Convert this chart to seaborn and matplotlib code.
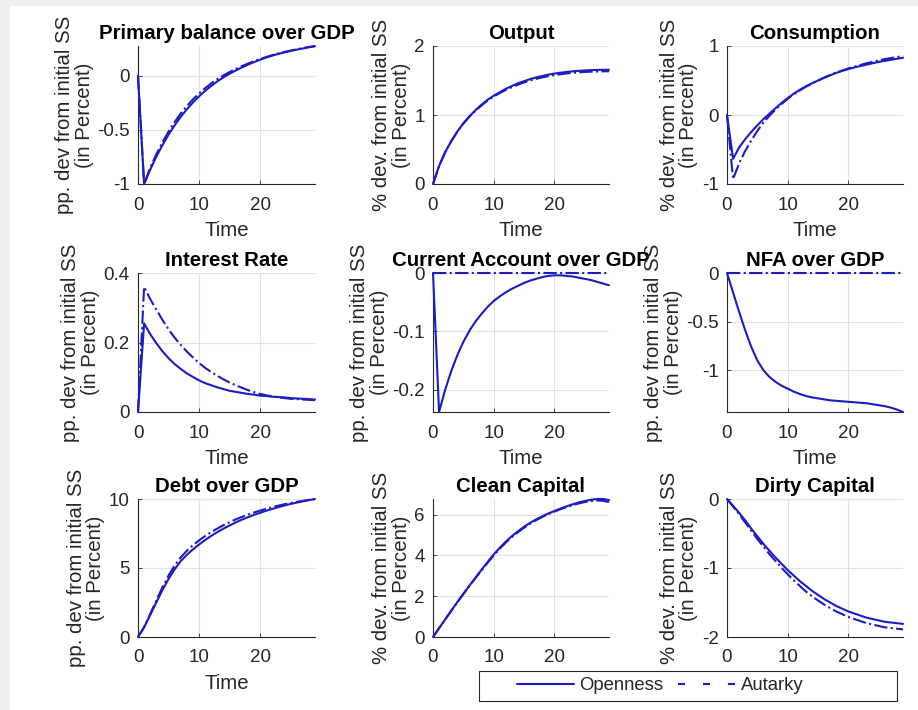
import matplotlib
matplotlib.use("Agg")
import matplotlib.pyplot as plt
from matplotlib.lines import Line2D
from matplotlib.patches import Rectangle
from matplotlib.ticker import FuncFormatter
import seaborn as sns

# ---- data: impulse responses, periods 0..29 ----
periods = list(range(30))

primary_open = [0, -1.0, -0.867, -0.748, -0.641, -0.544, -0.457, -0.379, -0.309, -0.246,
                -0.189, -0.138, -0.092, -0.050, -0.013, 0.020, 0.050, 0.078, 0.104, 0.128,
                0.150, 0.170, 0.188, 0.204, 0.218, 0.231, 0.243, 0.254, 0.265, 0.275]
primary_aut = [0, -1.0, -0.850, -0.725, -0.615, -0.515, -0.427, -0.348, -0.279, -0.217,
               -0.162, -0.113, -0.069, -0.030, 0.005, 0.036, 0.064, 0.090, 0.114, 0.136,
               0.156, 0.175, 0.192, 0.208, 0.222, 0.235, 0.247, 0.258, 0.268, 0.277]

output_open = [0, 0.26, 0.46, 0.62, 0.76, 0.88, 0.98, 1.07, 1.15, 1.22,
               1.28, 1.33, 1.38, 1.42, 1.46, 1.49, 1.52, 1.545, 1.565, 1.585,
               1.60, 1.613, 1.624, 1.633, 1.64, 1.646, 1.65, 1.653, 1.655, 1.655]
output_aut = [0, 0.26, 0.46, 0.62, 0.755, 0.875, 0.975, 1.063, 1.14, 1.208,
              1.267, 1.318, 1.364, 1.404, 1.44, 1.472, 1.50, 1.524, 1.545, 1.563,
              1.578, 1.591, 1.602, 1.611, 1.618, 1.624, 1.628, 1.631, 1.633, 1.634]

cons_open = [0, -0.635, -0.47, -0.35, -0.245, -0.15, -0.06, 0.02, 0.10, 0.175,
             0.245, 0.31, 0.365, 0.415, 0.46, 0.50, 0.54, 0.575, 0.61, 0.64,
             0.665, 0.69, 0.71, 0.73, 0.75, 0.77, 0.785, 0.80, 0.815, 0.83]
cons_aut = [0, -0.93, -0.70, -0.52, -0.37, -0.23, -0.11, -0.01, 0.08, 0.16,
            0.235, 0.30, 0.355, 0.41, 0.455, 0.50, 0.54, 0.58, 0.615, 0.645,
            0.675, 0.70, 0.725, 0.75, 0.77, 0.79, 0.81, 0.825, 0.84, 0.855]

rate_open = [0, 0.255, 0.224, 0.198, 0.175, 0.155, 0.138, 0.124, 0.111, 0.101,
             0.091, 0.083, 0.077, 0.071, 0.066, 0.061, 0.058, 0.055, 0.052, 0.050,
             0.047, 0.046, 0.044, 0.043, 0.042, 0.040, 0.039, 0.038, 0.037, 0.036]
rate_aut = [0, 0.36, 0.325, 0.295, 0.265, 0.238, 0.214, 0.193, 0.174, 0.157,
            0.141, 0.127, 0.115, 0.104, 0.094, 0.085, 0.077, 0.070, 0.063, 0.057,
            0.052, 0.048, 0.045, 0.042, 0.040, 0.038, 0.037, 0.036, 0.035, 0.034]

ca_open = [0, -0.238, -0.200, -0.168, -0.141, -0.118, -0.099, -0.083, -0.070, -0.058,
           -0.048, -0.040, -0.033, -0.027, -0.022, -0.017, -0.013, -0.010, -0.007, -0.005,
           -0.004, -0.004, -0.005, -0.006, -0.008, -0.010, -0.012, -0.015, -0.018, -0.021]
ca_aut = [0, 0, 0, 0, 0, 0, 0, 0, 0, 0,
          0, 0, 0, 0, 0, 0, 0, 0, 0, 0,
          0, 0, 0, 0, 0, 0, 0, 0, 0, 0]

nfa_open = [0, -0.20, -0.40, -0.59, -0.76, -0.90, -1.00, -1.07, -1.12, -1.16,
            -1.19, -1.22, -1.245, -1.265, -1.28, -1.29, -1.30, -1.31, -1.315, -1.32,
            -1.325, -1.33, -1.335, -1.34, -1.35, -1.36, -1.37, -1.385, -1.405, -1.43]
nfa_aut = [0, 0, 0, 0, 0, 0, 0, 0, 0, 0,
           0, 0, 0, 0, 0, 0, 0, 0, 0, 0,
           0, 0, 0, 0, 0, 0, 0, 0, 0, 0]

debt_open = [0, 0.7, 1.6, 2.5, 3.4, 4.2, 4.9, 5.5, 5.95, 6.35,
             6.7, 7.03, 7.33, 7.6, 7.85, 8.08, 8.3, 8.5, 8.68, 8.85,
             9.0, 9.15, 9.28, 9.41, 9.53, 9.64, 9.74, 9.83, 9.92, 10.0]
debt_aut = [0, 0.72, 1.68, 2.65, 3.6, 4.45, 5.17, 5.77, 6.25, 6.65,
            7.0, 7.32, 7.6, 7.86, 8.1, 8.32, 8.52, 8.7, 8.87, 9.02,
            9.16, 9.29, 9.41, 9.52, 9.62, 9.71, 9.79, 9.86, 9.93, 9.99]

clean_open = [0, 0.43, 0.86, 1.29, 1.71, 2.12, 2.52, 2.91, 3.30, 3.68,
              4.05, 4.38, 4.68, 4.95, 5.19, 5.41, 5.60, 5.77, 5.92, 6.06,
              6.18, 6.30, 6.41, 6.51, 6.60, 6.67, 6.73, 6.77, 6.77, 6.72]
clean_aut = [0, 0.43, 0.86, 1.28, 1.70, 2.10, 2.50, 2.89, 3.27, 3.64,
             4.00, 4.33, 4.63, 4.90, 5.14, 5.36, 5.56, 5.73, 5.89, 6.03,
             6.15, 6.27, 6.37, 6.47, 6.55, 6.62, 6.67, 6.70, 6.68, 6.62]

dirty_open = [0, -0.10, -0.20, -0.31, -0.43, -0.54, -0.65, -0.75, -0.85, -0.94,
              -1.03, -1.11, -1.19, -1.26, -1.33, -1.39, -1.45, -1.50, -1.55, -1.59,
              -1.63, -1.66, -1.69, -1.72, -1.74, -1.76, -1.78, -1.79, -1.80, -1.81]
dirty_aut = [0, -0.11, -0.22, -0.34, -0.46, -0.58, -0.69, -0.80, -0.90, -1.00,
             -1.09, -1.18, -1.26, -1.34, -1.41, -1.47, -1.53, -1.58, -1.63, -1.67,
             -1.71, -1.74, -1.77, -1.80, -1.82, -1.84, -1.86, -1.87, -1.88, -1.89]

titles = ["Primary balance over GDP", "Output", "Consumption",
          "Interest Rate", "Current Account over GDP", "NFA over GDP",
          "Debt over GDP", "Clean Capital", "Dirty Capital"]
PP = "pp. dev from initial SS\n(in Percent)"
PCT = "% dev. from initial SS\n(in Percent)"
ylabels = [PP, PCT, PCT, PP, PP, PP, PP, PCT, PCT]
# the legend box sits where the last two panels' x-axis labels would be
xlabels = ["Time", "Time", "Time", "Time", "Time", "Time", "Time", "", ""]
open_series = [primary_open, output_open, cons_open, rate_open, ca_open,
               nfa_open, debt_open, clean_open, dirty_open]
aut_series = [primary_aut, output_aut, cons_aut, rate_aut, ca_aut,
              nfa_aut, debt_aut, clean_aut, dirty_aut]
yticks = [[-1, -0.5, 0], [0, 1, 2], [-1, 0, 1],
          [0, 0.2, 0.4], [-0.2, -0.1, 0], [-1, -0.5, 0],
          [0, 5, 10], [0, 2, 4, 6], [-2, -1, 0]]
xticks = [0, 10, 20]
legend_labels = ["Openness", "Autarky"]

# ---- styling ----
sns.set_theme(style="white")
plt.rcParams["font.family"] = ["Liberation Sans", "DejaVu Sans"]
plt.rcParams["axes.unicode_minus"] = False

BLUE = "#1c1cc4"
AXC = "#262626"
W, H = 918, 710

fig = plt.figure(figsize=(W / 100, H / 100), dpi=100)
fig.patch.set_facecolor("white")
# light grey window frame along the top and left
fig.patches.append(Rectangle((0, 1 - 6 / H), 1, 6 / H, transform=fig.transFigure,
                             facecolor="#efefef", edgecolor="none", zorder=-5))
fig.patches.append(Rectangle((0, 0), 10 / W, 1, transform=fig.transFigure,
                             facecolor="#efefef", edgecolor="none", zorder=-5))

col_x = [138, 433, 727]
col_w = [177, 176, 176]
row_top = [46, 273, 499]
row_h = [138, 139, 138]

fmt = FuncFormatter(lambda v, p: f"{v:g}")

for i in range(9):
    r, c = divmod(i, 3)
    ax = fig.add_axes([col_x[c] / W, 1 - (row_top[r] + row_h[r]) / H,
                       col_w[c] / W, row_h[r] / H])
    sns.lineplot(x=periods, y=open_series[i], ax=ax, color=BLUE, lw=1.5,
                 clip_on=False, zorder=3)
    sns.lineplot(x=periods, y=aut_series[i], ax=ax, color=BLUE, lw=1.5,
                 linestyle="-.", clip_on=False, zorder=3)
    ax.set_xlim(0, 29)
    yt = yticks[i]
    lo = min(min(open_series[i]), min(aut_series[i]), yt[0])
    hi = max(max(open_series[i]), max(aut_series[i]), yt[-1])
    if i in (1, 2, 3, 6, 8):
        lo, hi = yt[0], yt[-1]
    ax.set_ylim(lo, hi)
    ax.set_xticks(xticks)
    ax.set_yticks(yt)
    ax.yaxis.set_major_formatter(fmt)
    ax.grid(True, color="#e2e2e2", lw=0.8)
    ax.set_axisbelow(True)
    for s in ("top", "right"):
        ax.spines[s].set_visible(False)
    for s in ("left", "bottom"):
        ax.spines[s].set_color(AXC)
        ax.spines[s].set_linewidth(0.8)
    ax.tick_params(direction="in", length=3, width=0.6, color=AXC,
                   labelcolor=AXC, labelsize=13.5, bottom=True, left=True)
    ax.tick_params(axis="x", pad=9)
    ax.tick_params(axis="y", pad=6)
    ax.set_title(titles[i], fontsize=14.7, fontweight="bold", pad=5, color="black")
    ax.set_xlabel(xlabels[i], fontsize=14.7, color=AXC, labelpad=5.5)
    ax.set_ylabel(ylabels[i], fontsize=14.7, color=AXC, labelpad=2.5, linespacing=1.05)

# legend box along the bottom right
fig.patches.append(Rectangle((479 / W, 1 - 701 / H), 418 / W, 30 / H,
                             transform=fig.transFigure, facecolor="white",
                             edgecolor=AXC, lw=0.8, zorder=4))
handles = [Line2D([], [], color=BLUE, lw=1.5, linestyle="-"),
           Line2D([], [], color=BLUE, lw=1.5, linestyle=(0, (3.36, 8.64)))]
fig.legend(handles, legend_labels, loc="center", bbox_to_anchor=(660 / W, 1 - 686 / H),
           ncol=2, frameon=False, fontsize=13.3, handlelength=3.08,
           handletextpad=0.3, columnspacing=0.8, borderpad=0)

fig.savefig("out.png", dpi=100, facecolor=fig.get_facecolor())
